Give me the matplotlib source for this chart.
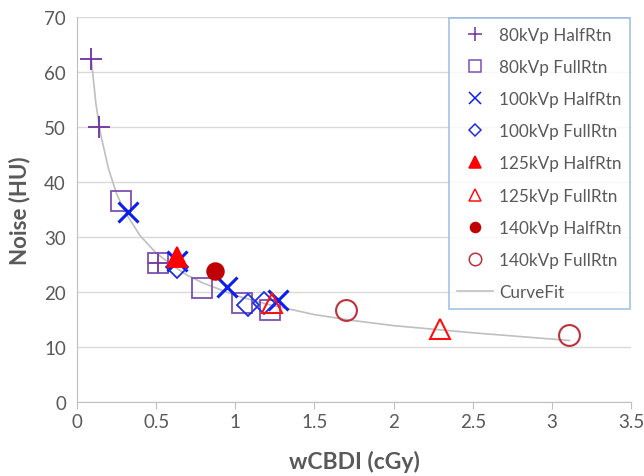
import matplotlib
matplotlib.use("Agg")
import matplotlib.pyplot as plt

plt.rcParams["font.family"] = ["Lato", "DejaVu Sans"]

# data
x_80_half = [0.09, 0.14, 0.51]
y_80_half = [62.3, 50.0, 25.3]
x_80_full = [0.28, 0.51, 0.79, 1.04, 1.22]
y_80_full = [36.5, 25.3, 20.7, 18.1, 16.7]
x_100_half = [0.32, 0.63, 0.95, 1.27]
y_100_half = [34.5, 25.7, 20.9, 18.5]
x_100_full = [0.63, 1.08, 1.18]
y_100_full = [24.6, 17.6, 18.0]
x_125_half = [0.63]
y_125_half = [26.3]
x_125_full = [1.23, 2.29]
y_125_full = [18.0, 13.2]
x_140_half = [0.87]
y_140_half = [23.8]
x_140_full = [1.70, 3.11]
y_140_full = [16.7, 12.2]

fit_x = [0.09, 0.12, 0.15, 0.2, 0.25, 0.3, 0.4, 0.5, 0.6, 0.7, 0.8, 1.0,
         1.2, 1.5, 1.75, 2.0, 2.5, 3.11]
fit_y = [62.3, 54.1, 48.6, 42.3, 37.9, 34.7, 30.2, 27.1, 24.9, 23.0, 21.6,
         19.4, 17.8, 15.9, 14.8, 13.9, 12.6, 11.2]

GREY = "#595959"

fig = plt.figure(figsize=(6.44, 4.77), dpi=100)
ax = fig.add_axes([0.1196, 0.155, 0.8604, 0.807])

ax.plot(fit_x, fit_y, color="#bfbfbf", lw=1.2, zorder=1, label="_fit")

ms = 14
series = [
    (x_80_half, y_80_half, "+", "#7030a0", "none", 1.3, ms + 2, "80kVp HalfRtn"),
    (x_80_full, y_80_full, "s", "#7f4fb3", "none", 1.3, ms, "80kVp FullRtn"),
    (x_100_half, y_100_half, "x", "#0a1ef0", "none", 2.2, ms + 1, "100kVp HalfRtn"),
    (x_100_full, y_100_full, "D", "#1f2ee0", "none", 1.3, ms - 3, "100kVp FullRtn"),
    (x_125_half, y_125_half, "^", "#ff0000", "#ff0000", 1.3, ms, "125kVp HalfRtn"),
    (x_125_full, y_125_full, "^", "#ff1010", "none", 1.5, ms + 1, "125kVp FullRtn"),
    (x_140_half, y_140_half, "o", "#c00000", "#c00000", 1.3, ms - 2, "140kVp HalfRtn"),
    (x_140_full, y_140_full, "o", "#c0303a", "none", 1.5, ms + 1, "140kVp FullRtn"),
]
handles = []
for xs, ys, mk, col, fc, mew, size, lab in series:
    ax.plot(xs, ys, ls="none", marker=mk, markersize=size, markeredgecolor=col,
            markerfacecolor=fc, markeredgewidth=mew, zorder=3)
    h, = ax.plot([], [], ls="none", marker=mk, markersize=size * 0.6,
                 markeredgecolor=col, markerfacecolor=fc,
                 markeredgewidth=1.1, label=lab)
    handles.append(h)
h_fit, = ax.plot([], [], color="#bfbfbf", lw=1.2, label="CurveFit")
handles.append(h_fit)

ax.set_xlim(0, 3.5)
ax.set_ylim(0, 70)
ax.set_xticks([0, 0.5, 1, 1.5, 2, 2.5, 3, 3.5])
ax.set_xticklabels(["0", "0.5", "1", "1.5", "2", "2.5", "3", "3.5"])
ax.set_yticks(range(0, 71, 10))
ax.yaxis.grid(True, color="#d9d9d9", lw=1.0)
ax.set_axisbelow(True)
for s in ["top", "right"]:
    ax.spines[s].set_visible(False)
for s in ["left", "bottom"]:
    ax.spines[s].set_color("#bfbfbf")
ax.tick_params(axis="x", direction="out", length=5, color="#bfbfbf",
               labelcolor=GREY, labelsize=13.5, pad=3)
ax.tick_params(axis="y", length=0, labelcolor=GREY, labelsize=13.5, pad=8)

ax.set_xlabel("wCBDI (cGy)", fontsize=16.5, fontweight="bold", color=GREY, labelpad=14)
ax.set_ylabel("Noise (HU)", fontsize=16, fontweight="bold", color=GREY, labelpad=10)

leg = ax.legend(handles=handles, loc="upper right", bbox_to_anchor=(1.0, 1.0),
                fontsize=12.3, labelcolor=GREY, frameon=True, fancybox=False,
                borderpad=0.5, labelspacing=0.95, handlelength=2.1,
                handletextpad=0.35, borderaxespad=0.05)
leg.get_frame().set_edgecolor("#8db3e2")
leg.get_frame().set_linewidth(1.2)

fig.savefig("out.png", dpi=100)
